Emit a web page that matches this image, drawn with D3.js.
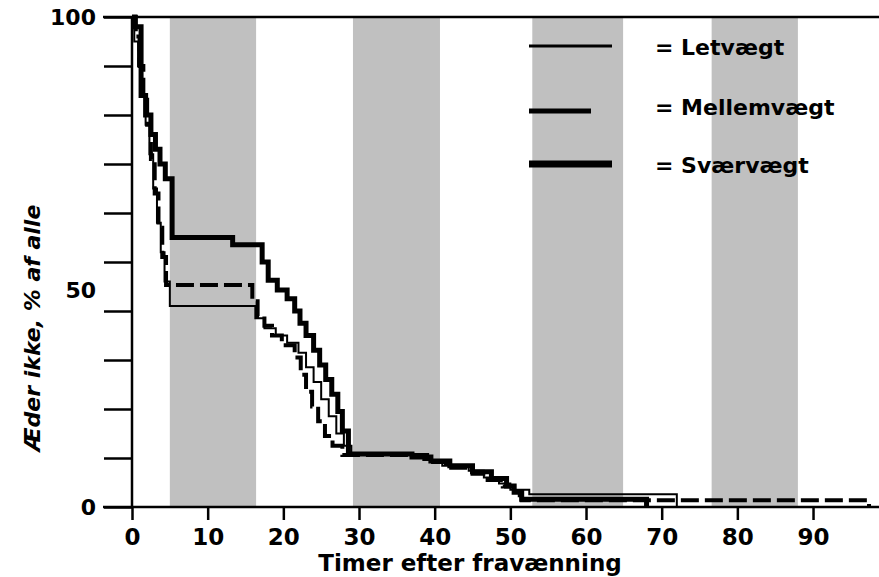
<!DOCTYPE html>
<html>
<head>
    <title>Æder ikke</title>
    <script src="https://d3js.org/d3.v7.min.js"></script>
    <style>
        body { margin: 0; background: #fff; }
        text { font-family: "DejaVu Sans", Arial, sans-serif; font-weight: bold; fill: #000; }
    </style>
</head>
<body>
    <div id="chart"></div>

    <script>
        // Kaplan-Meier style curves: hours after weaning vs % not eating
        const letTimes = [0, 0.3, 0.8, 1.3, 1.8, 2.3, 2.8, 3.3, 3.8, 4.3, 5.0, 16.3, 17.5, 19.0, 20.5, 22.0, 23.0, 24.0, 25.0, 26.0, 27.0, 28.0, 29.0, 38.5, 41.0, 44.5, 46.5, 48.5, 50.0, 52.5, 72.0];
        const letValues = [100, 95, 90, 84, 78, 72, 65, 58, 52, 46, 41, 38.5, 36.5, 35, 33.5, 31.5, 28.5, 25.5, 22, 18.5, 15, 12.5, 10.8, 9.6, 8.4, 7.4, 6, 4.8, 3.5, 2.6, 0];

        const mellemTimes = [0, 0.5, 1.0, 1.5, 2.0, 2.5, 3.0, 3.5, 4.0, 4.5, 15.9, 16.6, 17.5, 18.5, 19.8, 21.5, 22.3, 23.0, 23.8, 24.6, 25.5, 26.5, 27.8, 39.0, 41.5, 45.0, 47.0, 49.0, 50.5, 51.5, 97.4];
        const mellemValues = [100, 96, 90, 84, 78, 71, 64, 57, 51, 45.3, 42, 39, 37, 35, 33, 30.5, 27, 23.5, 20.5, 17.5, 14.5, 12.5, 10.6, 9.2, 8, 6.8, 5.5, 4.2, 2.4, 1.4, 0];

        const svaerTimes = [0, 0.4, 1.2, 1.8, 2.5, 3.1, 3.7, 4.4, 5.3, 13.3, 17.2, 18.0, 19.2, 20.5, 21.5, 22.2, 23.0, 24.0, 24.8, 25.6, 26.4, 27.2, 27.8, 28.6, 37.0, 39.5, 42.0, 45.0, 47.5, 49.5, 50.5, 51.5, 68.0];
        const svaerValues = [100, 98, 84, 80, 76, 73, 70, 67, 55, 53.5, 50, 46.3, 44.3, 42.5, 40, 37.5, 35, 32, 29, 26, 23, 19.5, 15.5, 10.8, 10.2, 9.4, 8.4, 7.2, 5.8, 4.3, 3, 1.6, 0];

        // dark periods (grey bands), hours
        const bandStart = [5.0, 29.2, 52.9, 76.6];
        const bandEnd = [16.4, 40.7, 64.9, 88.0];

        const xTicks = [0, 10, 20, 30, 40, 50, 60, 70, 80, 90];
        const yTicks = [0, 10, 20, 30, 40, 50, 60, 70, 80, 90, 100];
        const yLabels = [0, 50, 100];

        const seriesNames = ["Letvægt", "Mellemvægt", "Sværvægt"];

        const width = 879, height = 577;
        const svg = d3.select("#chart")
            .append("svg")
            .attr("width", width)
            .attr("height", height);

        const x = d3.scaleLinear().domain([0, 99]).range([132, 132 + 99 * 7.567]);
        const y = d3.scaleLinear().domain([0, 100]).range([507, 17]);

        // grey bands
        svg.selectAll(".band")
            .data(d3.range(bandStart.length))
            .join("rect")
            .attr("class", "band")
            .attr("x", i => x(bandStart[i]))
            .attr("width", i => x(bandEnd[i]) - x(bandStart[i]))
            .attr("y", y(100))
            .attr("height", y(0) - y(100))
            .attr("fill", "#c0c0c0");

        // y axis ticks (pointing left)
        const yAxis = svg.append("g")
            .attr("transform", `translate(${x(0)},0)`)
            .call(d3.axisLeft(y).tickValues(yTicks).tickSize(28).tickFormat(""));
        yAxis.select(".domain").remove();
        yAxis.selectAll("line").attr("stroke", "#000").attr("stroke-width", 2.5);

        svg.selectAll(".ylab")
            .data(yLabels)
            .join("text")
            .attr("class", "ylab")
            .attr("x", 96)
            .attr("y", d => y(d) + (d === 50 ? 28 : 0))
            .attr("dy", "0.36em")
            .attr("text-anchor", "end")
            .attr("font-size", 22)
            .text(d => d);

        // x axis
        const xAxis = svg.append("g")
            .attr("transform", `translate(0,${y(0)})`)
            .call(d3.axisBottom(x).tickValues(xTicks).tickSize(13).tickPadding(9));
        xAxis.select(".domain").remove();
        xAxis.selectAll("line").attr("stroke", "#000").attr("stroke-width", 2.5);
        xAxis.selectAll("text")
            .attr("font-size", 23)
            .attr("font-family", "DejaVu Sans")
            .attr("font-weight", "bold")
            .attr("fill", "#000");

        // axis lines and top frame
        svg.append("line")
            .attr("x1", 103).attr("x2", width)
            .attr("y1", y(0)).attr("y2", y(0))
            .attr("stroke", "#000").attr("stroke-width", 2.5);
        svg.append("line")
            .attr("x1", 103).attr("x2", width)
            .attr("y1", y(100)).attr("y2", y(100))
            .attr("stroke", "#000").attr("stroke-width", 2.5);
        svg.append("line")
            .attr("x1", x(0)).attr("x2", x(0))
            .attr("y1", y(100)).attr("y2", y(0))
            .attr("stroke", "#000").attr("stroke-width", 2.5);

        // step curves
        const line = d3.line()
            .x(d => x(d[0]))
            .y(d => y(d[1]))
            .curve(d3.curveStepAfter);

        const curves = [
            { times: mellemTimes, values: mellemValues, w: 4, dash: "18,6" },
            { times: letTimes, values: letValues, w: 2, dash: null },
            { times: svaerTimes, values: svaerValues, w: 5, dash: null }
        ];

        svg.selectAll(".curve")
            .data(curves)
            .join("path")
            .attr("class", "curve")
            .attr("d", c => line(c.times.map((t, i) => [t, c.values[i]])))
            .attr("fill", "none")
            .attr("stroke", "#000")
            .attr("stroke-width", c => c.w)
            .attr("stroke-dasharray", c => c.dash);

        // legend
        const legendY = [46, 111, 164];
        const legendLen = [83, 62, 83];
        const legendW = [3, 5, 7];
        const legendTextY = [55, 115, 173];

        seriesNames.forEach((name, i) => {
            svg.append("line")
                .attr("x1", 529).attr("x2", 529 + legendLen[i])
                .attr("y1", legendY[i]).attr("y2", legendY[i])
                .attr("stroke", "#000")
                .attr("stroke-width", legendW[i]);
            svg.append("text")
                .attr("x", 655)
                .attr("y", legendTextY[i])
                .attr("font-size", 22)
                .text("= " + name);
        });

        // axis titles
        svg.append("text")
            .attr("x", 470)
            .attr("y", 571)
            .attr("text-anchor", "middle")
            .attr("font-size", 23)
            .text("Timer efter fravænning");

        svg.append("text")
            .attr("transform", "translate(40,328) rotate(-90)")
            .attr("text-anchor", "middle")
            .attr("font-size", 22)
            .attr("font-style", "italic")
            .text("Æder ikke, % af alle");
    </script>
</body>
</html>
